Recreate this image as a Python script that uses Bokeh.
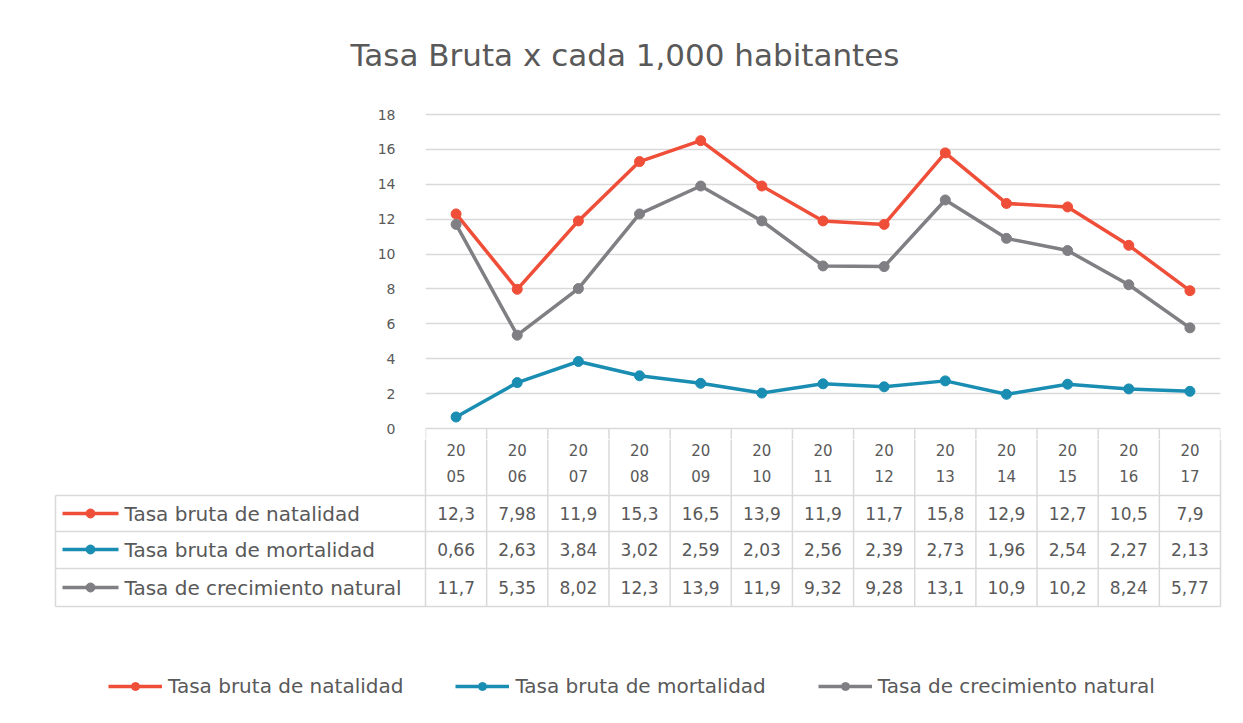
from bokeh.plotting import figure
from bokeh.models import (Range1d, FixedTicker, Legend, LegendItem, Title)
from bokeh.layouts import column
from bokeh.core.properties import value
from bokeh.embed import file_html
from bokeh.resources import INLINE

# ---------------- data ----------------
years = ["2005", "2006", "2007", "2008", "2009", "2010", "2011",
         "2012", "2013", "2014", "2015", "2016", "2017"]
natalidad = [12.3, 7.98, 11.9, 15.3, 16.5, 13.9, 11.9, 11.7, 15.8, 12.9, 12.7, 10.5, 7.9]
mortalidad = [0.66, 2.63, 3.84, 3.02, 2.59, 2.03, 2.56, 2.39, 2.73, 1.96, 2.54, 2.27, 2.13]
crecimiento = [11.7, 5.35, 8.02, 12.3, 13.9, 11.9, 9.32, 9.28, 13.1, 10.9, 10.2, 8.24, 5.77]
series_names = ["Tasa bruta de natalidad", "Tasa bruta de mortalidad",
                "Tasa de crecimiento natural"]
y_ticks = [0, 2, 4, 6, 8, 10, 12, 14, 16, 18]
title_text = "Tasa Bruta x cada 1,000 habitantes"

# ---------------- style ----------------
FONT = "DejaVu Sans"
TXT = "#595959"
GRID = "#d9d9d9"
COLORS = ["#ef4e38", "#1a8db3", "#7f7f84"]
series = [natalidad, mortalidad, crecimiento]

W = 1240
H = 720
n = len(years)
PLOT_L, PLOT_R = 425, 1220          # page px of plot area
CW = (PLOT_R - PLOT_L) / n           # column width px
TOP_H = 439
FRAME_TOP = 104
Y0_PAGE, Y18_PAGE = 428, 114
ppu = (Y0_PAGE - Y18_PAGE) / 18.0
y_start = -(TOP_H - Y0_PAGE) / ppu
y_end = 18 + (Y18_PAGE - FRAME_TOP) / ppu

xs = list(range(n))

# ---------------- top chart ----------------
p = figure(width=W, height=TOP_H, output_backend="svg", toolbar_location=None,
           x_range=Range1d(-0.5, n - 0.5), y_range=Range1d(y_start, y_end),
           min_border_left=PLOT_L, min_border_right=W - PLOT_R,
           min_border_top=FRAME_TOP, min_border_bottom=0, frame_align=False)
p.outline_line_color = None
p.xaxis.visible = False
p.xgrid.visible = False
p.ygrid.ticker = FixedTicker(ticks=y_ticks)
p.ygrid.grid_line_color = GRID
p.ygrid.grid_line_width = 1.5
p.yaxis.ticker = FixedTicker(ticks=y_ticks)
p.yaxis.axis_line_color = None
p.yaxis.major_tick_line_color = None
p.yaxis.minor_tick_line_color = None
p.yaxis.major_label_standoff = 24
p.yaxis.major_label_text_font = FONT
p.yaxis.major_label_text_font_size = "14px"
p.yaxis.major_label_text_color = TXT

t = Title(text=title_text, align="left", offset=350 - PLOT_L,
          text_font=FONT, text_font_size="31px", text_font_style="normal",
          text_color=TXT, standoff=64)
p.add_layout(t, "above")

for vals, col in zip(series, COLORS):
    p.line(xs, vals, line_color=col, line_width=3.5)
    p.scatter(xs, vals, size=10, fill_color=col, line_color=col)

# column separators continuing into table
bounds = [i - 0.5 for i in range(n + 1)]
p.segment(x0=bounds, y0=[0] * len(bounds), x1=bounds, y1=[y_start] * len(bounds),
          line_color=GRID, line_width=1.5)

# ---------------- table + legend ----------------
BH = H - TOP_H
bx0 = -0.5 - PLOT_L / CW
bx1 = n - 0.5 + (W - PLOT_R) / CW
b = figure(width=W, height=BH, output_backend="svg", toolbar_location=None,
           x_range=Range1d(bx0, bx1), y_range=Range1d(BH, 0),
           min_border=0, min_border_left=0, min_border_right=0,
           min_border_top=0, min_border_bottom=0, frame_align=False)
b.outline_line_color = None
b.axis.visible = False
b.grid.visible = False

def px_to_x(px):
    return -0.5 - (PLOT_L - px) / CW

top_off = TOP_H
row_lines = [495 - top_off, 531 - top_off, 568 - top_off, 606 - top_off]
row_centers = [513 - top_off, 549 - top_off, 587 - top_off]
tbl_left = px_to_x(55)

# vertical lines at columns
b.segment(x0=bounds, y0=[0] * len(bounds), x1=bounds, y1=[row_lines[-1]] * len(bounds),
          line_color=GRID, line_width=1.5)
# left table border
b.segment(x0=[tbl_left], y0=[row_lines[0]], x1=[tbl_left], y1=[row_lines[-1]],
          line_color=GRID, line_width=1.5)
# horizontal lines
b.segment(x0=[tbl_left] * 4, y0=row_lines, x1=[n - 0.5] * 4, y1=row_lines,
          line_color=GRID, line_width=1.5)

# header years
b.text(xs, [449 - top_off] * n, text=[y[:2] for y in years], text_align="center",
       text_baseline="middle", text_font=value(FONT), text_font_size="15px", text_color=TXT)
b.text(xs, [475 - top_off] * n, text=[y[2:] for y in years], text_align="center",
       text_baseline="middle", text_font=value(FONT), text_font_size="15px", text_color=TXT)

legend_items = []
for vals, col, name, yc in zip(series, COLORS, series_names, row_centers):
    labels = [str(v).replace(".", ",") for v in vals]
    b.text(xs, [yc] * n, text=labels, text_align="center", text_baseline="middle",
           text_font=value(FONT), text_font_size="17px", text_color=TXT)
    b.text([px_to_x(124)], [yc], text=[name], text_align="left", text_baseline="middle",
           text_font=value(FONT), text_font_size="20px", text_color=TXT)
    lr = b.line([px_to_x(62), px_to_x(118)], [yc, yc], line_color=col, line_width=3.5)
    sr = b.scatter([px_to_x(90)], [yc], size=9, fill_color=col, line_color=col)
    legend_items.append(LegendItem(label=name, renderers=[lr, sr]))

leg = Legend(items=legend_items, orientation="horizontal", location=(108, 22),
             glyph_width=54, glyph_height=20, label_height=20, label_standoff=6,
             spacing=52, padding=0, margin=0,
             label_text_font=FONT, label_text_font_size="20px", label_text_color=TXT,
             border_line_color=None, background_fill_alpha=0)
b.add_layout(leg, "center")

layout = column(p, b, spacing=0)
open("out.html", "w").write(file_html(layout, INLINE))
